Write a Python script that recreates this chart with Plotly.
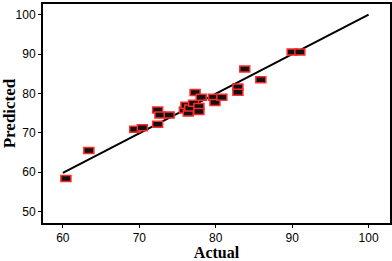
import plotly.graph_objects as go

actual = [60.4, 63.4, 69.4, 70.4, 72.4, 72.4, 72.7, 73.9, 75.9, 76.1, 76.4, 76.6, 77.1,
          77.3, 77.8, 77.8, 78.1, 79.7, 79.9, 80.8, 82.9, 82.9, 83.8, 85.9, 90.0, 91.0]
predicted = [58.4, 65.5, 70.9, 71.3, 72.2, 75.8, 74.5, 74.5, 75.8, 77.0, 75.0, 76.3, 77.5,
             80.2, 76.7, 75.4, 79.0, 79.0, 77.7, 79.0, 81.6, 80.3, 86.2, 83.5, 90.5, 90.5]
fit_x = [60, 100]
fit_y = [59.8, 100]
x_ticks = [60, 70, 80, 90, 100]
y_ticks = [50, 60, 70, 80, 90, 100]

fig = go.Figure()
fig.add_trace(go.Scatter(x=fit_x, y=fit_y, mode="lines",
                         line=dict(color="black", width=2), showlegend=False, hoverinfo="skip"))
fig.add_trace(go.Scatter(x=actual, y=predicted, mode="markers",
                         marker=dict(size=6, color="rgba(0,0,0,0)"), showlegend=False))

for xv, yv in zip(actual, predicted):
    fig.add_shape(type="rect", xref="x", yref="y",
                  xsizemode="pixel", ysizemode="pixel",
                  xanchor=xv, yanchor=yv, x0=-5, x1=5, y0=-3, y1=3,
                  fillcolor="#111111", line=dict(color="#ff2a2a", width=1.5))

axis_common = dict(showline=True, linecolor="black", linewidth=2, mirror=True,
                   ticks="outside", ticklen=3, tickwidth=1, tickcolor="black",
                   showgrid=False, zeroline=False, automargin=False,
                   tickfont=dict(family="Liberation Sans, Arial", size=12, color="black"))

fig.update_xaxes(range=[57.4, 102.8], tickvals=x_ticks,
                 title=dict(text="<b>Actual</b>", standoff=2,
                            font=dict(family="Liberation Serif, Times New Roman", size=16, color="black")),
                 **axis_common)
fig.update_yaxes(range=[47.1, 102.7], tickvals=y_ticks,
                 title=dict(text="<b>Predicted</b>", standoff=0,
                            font=dict(family="Liberation Serif, Times New Roman", size=17, color="black")),
                 **axis_common)

fig.update_layout(width=392, height=261, margin=dict(l=43, r=2, t=4, b=38),
                  plot_bgcolor="white", paper_bgcolor="white")
fig.write_html("out.html", config={"displayModeBar": False},
               post_script="document.body.style.margin='0';document.body.style.padding='0';")
